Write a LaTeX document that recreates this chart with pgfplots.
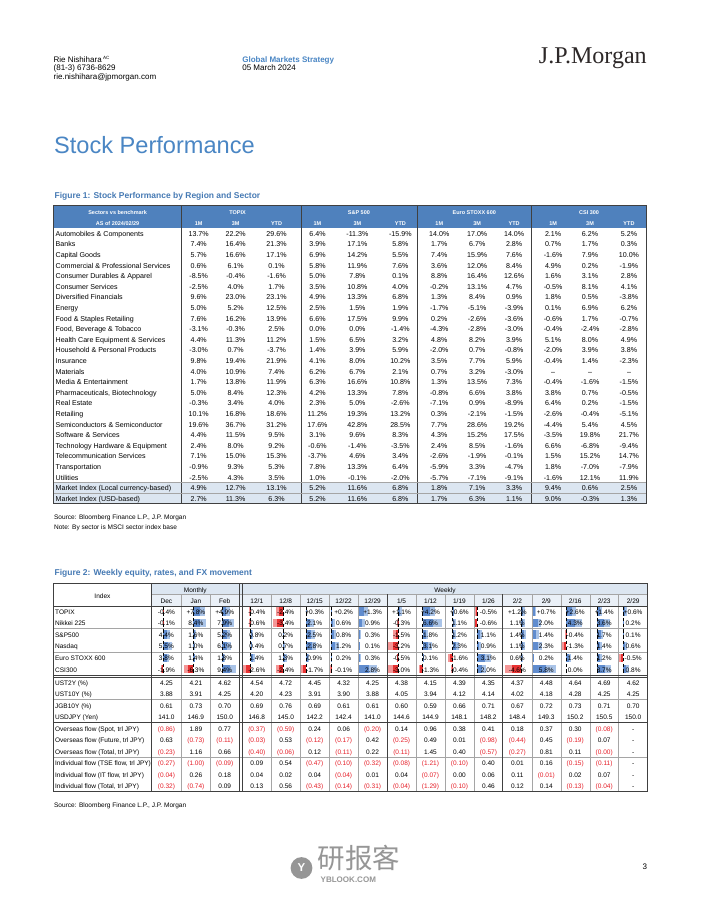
\documentclass[border=0pt]{standalone}
\usepackage{pgfplots}
\pgfplotsset{compat=1.18}
\usepackage{pgfplotstable}
\usepackage{fontspec}
\setmainfont{Liberation Sans}
\newfontfamily\logofont{Liberation Serif}
\newfontfamily\cjk{Noto Sans CJK SC}
\definecolor{jpblue}{RGB}{74,134,196}
\definecolor{figblue}{RGB}{70,122,180}
\definecolor{hdrblue}{RGB}{79,129,189}
\definecolor{lightrow}{RGB}{220,230,241}
\definecolor{hdrtwo}{RGB}{234,240,247}
\definecolor{barblue}{RGB}{96,140,206}
\definecolor{barbluel}{RGB}{170,196,232}
\definecolor{barred}{RGB}{232,50,50}
\definecolor{barredl}{RGB}{244,150,150}
\definecolor{negred}{RGB}{230,30,40}
\definecolor{linegray}{RGB}{64,64,64}
\definecolor{thingray}{RGB}{165,165,165}
\definecolor{wm}{RGB}{150,150,150}
\newcommand{\fs}[1]{\fontsize{#1}{#1}\selectfont}
% percent formatter: "--" stays as a dash, numbers get a % sign
\def\fmtpct#1{\expandafter\fmtpcti#1\relax}
\def\fmtpcti#1#2\relax{\ifx-#1\ifx-#2--\else#1#2\%\fi\else#1#2\%\fi}
% flow formatter: negatives in red parentheses, a lone "-" stays a dash
\def\fmtflow#1{\expandafter\fmtflowi#1\relax}
\def\fmtflowi#1#2\relax{\ifx-#1\ifx\relax#2\relax-\else\textcolor{negred}{(#2)}\fi\else#1#2\fi}

% Figure 1: stock performance (%), rows 0..25
\pgfplotstableread{
r a1 a2 a3 b1 b2 b3 c1 c2 c3 d1 d2 d3
0 13.7 22.2 29.6 6.4 -11.3 -15.9 14.0 17.0 14.0 2.1 6.2 5.2
1 7.4 16.4 21.3 3.9 17.1 5.8 1.7 6.7 2.8 0.7 1.7 0.3
2 5.7 16.6 17.1 6.9 14.2 5.5 7.4 15.9 7.6 -1.6 7.9 10.0
3 0.6 6.1 0.1 5.8 11.9 7.6 3.6 12.0 8.4 4.9 0.2 -1.9
4 -8.5 -0.4 -1.6 5.0 7.8 0.1 8.8 16.4 12.6 1.6 3.1 2.8
5 -2.5 4.0 1.7 3.5 10.8 4.0 -0.2 13.1 4.7 -0.5 8.1 4.1
6 9.6 23.0 23.1 4.9 13.3 6.8 1.3 8.4 0.9 1.8 0.5 -3.8
7 5.0 5.2 12.5 2.5 1.5 1.9 -1.7 -5.1 -3.9 0.1 6.9 6.2
8 7.6 16.2 13.9 6.6 17.5 9.9 0.2 -2.6 -3.6 -0.6 1.7 -0.7
9 -3.1 -0.3 2.5 0.0 0.0 -1.4 -4.3 -2.8 -3.0 -0.4 -2.4 -2.8
10 4.4 11.3 11.2 1.5 6.5 3.2 4.8 8.2 3.9 5.1 8.0 4.9
11 -3.0 0.7 -3.7 1.4 3.9 5.9 -2.0 0.7 -0.8 -2.0 3.9 3.8
12 9.8 19.4 21.9 4.1 8.0 10.2 3.5 7.7 5.9 -0.4 1.4 -2.3
13 4.0 10.9 7.4 6.2 6.7 2.1 0.7 3.2 -3.0 -- -- --
14 1.7 13.8 11.9 6.3 16.6 10.8 1.3 13.5 7.3 -0.4 -1.6 -1.5
15 5.0 8.4 12.3 4.2 13.3 7.8 -0.8 6.6 3.8 3.8 0.7 -0.5
16 -0.3 3.4 4.0 2.3 5.0 -2.6 -7.1 0.9 -8.9 6.4 0.2 -1.5
17 10.1 16.8 18.6 11.2 19.3 13.2 0.3 -2.1 -1.5 -2.6 -0.4 -5.1
18 19.6 36.7 31.2 17.6 42.8 28.5 7.7 28.6 19.2 -4.4 5.4 4.5
19 4.4 11.5 9.5 3.1 9.6 8.3 4.3 15.2 17.5 -3.5 19.8 21.7
20 2.4 8.0 9.2 -0.6 -1.4 -3.5 2.4 8.5 -1.6 6.6 -6.8 -9.4
21 7.1 15.0 15.3 -3.7 4.6 3.4 -2.6 -1.9 -0.1 1.5 15.2 14.7
22 -0.9 9.3 5.3 7.8 13.3 6.4 -5.9 3.3 -4.7 1.8 -7.0 -7.9
23 -2.5 4.3 3.5 1.0 -0.1 -2.0 -5.7 -7.1 -9.1 -1.6 12.1 11.9
24 4.9 12.7 13.1 5.2 11.6 6.8 1.8 7.1 3.3 9.4 0.6 2.5
25 2.7 11.3 6.3 5.2 11.6 6.8 1.7 6.3 1.1 9.0 -0.3 1.3
}\figone

% Figure 2: equity moves (%) as printed
\pgfplotstableread{
y m1 m2 m3 w1 w2 w3 w4 w5 w6 w7 w8 w9 w10 w11 w12 w13 w14
611.5 -0.4 +7.8 +4.9 -0.4 -2.4 +0.3 +0.2 +1.3 +1.1 +4.2 +0.6 -0.5 +1.2 +0.7 +2.6 +1.4 +0.6
622.8 -0.1 8.4 7.9 -0.6 -3.4 2.1 0.6 0.9 -0.3 6.6 1.1 -0.6 1.1 2.0 4.3 3.6 0.2
634.5 4.4 1.6 5.2 0.8 0.2 2.5 0.8 0.3 -1.5 1.8 1.2 1.1 1.4 1.4 -0.4 1.7 0.1
645.9 5.5 1.0 6.1 0.4 0.7 2.8 1.2 0.1 -3.2 3.1 2.3 0.9 1.1 2.3 -1.3 1.4 0.6
657.6 3.8 1.4 1.8 1.4 1.3 0.9 0.2 0.3 -0.5 0.1 -1.6 3.1 0.6 0.2 1.4 1.2 -0.5
669.0 -1.9 -6.3 9.4 -2.6 -2.4 -1.7 -0.1 2.8 -3.0 -1.3 -0.4 2.0 -4.6 5.8 0.0 3.7 0.8
}\eqtext
% same values, numeric, for the in-cell bars
\pgfplotstableread{
y m1 m2 m3 w1 w2 w3 w4 w5 w6 w7 w8 w9 w10 w11 w12 w13 w14
611.5 -0.4 7.8 4.9 -0.4 -2.4 0.3 0.2 1.3 1.1 4.2 0.6 -0.5 1.2 0.7 2.6 1.4 0.6
622.8 -0.1 8.4 7.9 -0.6 -3.4 2.1 0.6 0.9 -0.3 6.6 1.1 -0.6 1.1 2.0 4.3 3.6 0.2
634.5 4.4 1.6 5.2 0.8 0.2 2.5 0.8 0.3 -1.5 1.8 1.2 1.1 1.4 1.4 -0.4 1.7 0.1
645.9 5.5 1.0 6.1 0.4 0.7 2.8 1.2 0.1 -3.2 3.1 2.3 0.9 1.1 2.3 -1.3 1.4 0.6
657.6 3.8 1.4 1.8 1.4 1.3 0.9 0.2 0.3 -0.5 0.1 -1.6 3.1 0.6 0.2 1.4 1.2 -0.5
669.0 -1.9 -6.3 9.4 -2.6 -2.4 -1.7 -0.1 2.8 -3.0 -1.3 -0.4 2.0 -4.6 5.8 0.0 3.7 0.8
}\eqbars
% rates, FX and flows (negative flows are printed in red parentheses)
\pgfplotstableread{
y m1 m2 m3 w1 w2 w3 w4 w5 w6 w7 w8 w9 w10 w11 w12 w13 w14
682.3 4.25 4.21 4.62 4.54 4.72 4.45 4.32 4.25 4.38 4.15 4.39 4.35 4.37 4.48 4.64 4.69 4.62
693.8 3.88 3.91 4.25 4.20 4.23 3.91 3.90 3.88 4.05 3.94 4.12 4.14 4.02 4.18 4.28 4.25 4.25
705.5 0.61 0.73 0.70 0.69 0.76 0.69 0.61 0.61 0.60 0.59 0.66 0.71 0.67 0.72 0.73 0.71 0.70
716.9 141.0 146.9 150.0 146.8 145.0 142.2 142.4 141.0 144.6 144.9 148.1 148.2 148.4 149.3 150.2 150.5 150.0
728.5 -0.86 1.89 0.77 -0.37 -0.59 0.24 0.06 -0.20 0.14 0.96 0.38 0.41 0.18 0.37 0.30 -0.08 -
739.9 0.63 -0.73 -0.11 -0.03 0.53 -0.12 -0.17 0.42 -0.25 0.49 0.01 -0.98 -0.44 0.45 -0.19 0.07 -
751.2 -0.23 1.16 0.66 -0.40 -0.06 0.12 -0.11 0.22 -0.11 1.45 0.40 -0.57 -0.27 0.81 0.11 -0.00 -
762.8 -0.27 -1.00 -0.09 0.09 0.54 -0.47 -0.10 -0.32 -0.08 -1.21 -0.10 0.40 0.01 0.16 -0.15 -0.11 -
774.3 -0.04 0.26 0.18 0.04 0.02 0.04 -0.04 0.01 0.04 -0.07 0.00 0.06 0.11 -0.01 0.02 0.07 -
785.8 -0.32 -0.74 0.09 0.13 0.56 -0.43 -0.14 -0.31 -0.04 -1.29 -0.10 0.46 0.12 0.14 -0.13 -0.04 -
}\othertext
% zero axes of the in-cell data bars (x position, top of axis)
\pgfplotstableread{
z y
163.7 606.5
193.7 606.5
222.7 606.5
251.0 606.5
283.3 606.5
306.7 606.5
331.5 606.5
399.0 606.5
423.3 606.5
453.3 606.5
477.7 606.5
521.7 606.5
567.3 606.5
598.3 606.5
624.0 606.5
}\zeroaxes

\tikzset{
  lt/.style={inner sep=0pt, anchor=mid west, font=\fs{6}},
  ct/.style={inner sep=0pt, anchor=mid, font=\fs{6}},
}
\newcommand{\fonecol}[2]{\addplot[draw=none, mark=none, point meta=explicit symbolic,
  nodes near coords={\fmtpct{\pgfplotspointmeta}},
  every node near coord/.append style={ct, font=\fs{6.2}, text=black}]
  table[x expr=#2, y expr={233.3+10.6*\thisrow{r}}, meta=#1] {\figone};}
\newcommand{\ftcol}[4]{\addplot[draw=none, mark=none, point meta=explicit symbolic,
  nodes near coords={#4{\pgfplotspointmeta}},
  every node near coord/.append style={ct, font=\fs{5.7}, text=black}]
  table[x expr=#3, y=y, meta=#2] {#1};}
% a data bar: light full length, darker near its base (gradient look)
\newcommand{\barcol}[3]{%
  \addplot[barbluel, line width=7pt, line cap=butt, quiver={u={max(\thisrow{#1},0)*#3}, v=0}]
    table[x expr=#2, y=y] {\eqbars};
  \addplot[barblue, line width=7pt, line cap=butt, quiver={u={max(\thisrow{#1},0)*#3*0.55}, v=0}]
    table[x expr=#2, y=y] {\eqbars};
  \addplot[barredl, line width=7pt, line cap=butt, quiver={u={min(\thisrow{#1},0)*#3}, v=0}]
    table[x expr=#2, y=y] {\eqbars};
  \addplot[barred, line width=7pt, line cap=butt, quiver={u={min(\thisrow{#1},0)*#3*0.55}, v=0}]
    table[x expr=#2, y=y] {\eqbars};}
\newcommand{\rowA}[2]{\node[lt, font=\fs{6.2}] at (axis cs:55.5,{233.3+10.6*#1}) {#2};}
\newcommand{\rowB}[2]{\node[lt, font=\fs{5.7}] at (axis cs:55,#1) {#2};}
\newcommand{\vl}[4]{\draw[#4] (axis cs:#1,#2) -- (axis cs:#1,#3);}
\newcommand{\hl}[4]{\draw[#4] (axis cs:#2,#1) -- (axis cs:#3,#1);}
\newcommand{\hw}[3]{\node[ct, font=\fs{4.8}\bfseries, text=white] at (axis cs:#1,#2) {#3};}
\newcommand{\hb}[2]{\node[ct, font=\fs{5.7}] at (axis cs:#1,600.3) {#2};}

\begin{document}
\begin{tikzpicture}
\begin{axis}[set layers, hide axis, scale only axis, width=612pt, height=792pt,
  xmin=0, xmax=702, ymin=0, ymax=907, y dir=reverse, clip=false]

\begin{pgfonlayer}{axis background}
  \fill[white] (axis cs:0,0) rectangle (axis cs:702,907);
  \fill[hdrblue] (axis cs:54,205.5) rectangle (axis cs:647.3,228);
  \fill[lightrow] (axis cs:54,482.4) rectangle (axis cs:647.3,503.6);
  \fill[lightrow] (axis cs:151.7,583.5) rectangle (axis cs:648.5,594.3);
  \fill[hdrtwo] (axis cs:151.7,594.3) rectangle (axis cs:648.5,606);
\end{pgfonlayer}

% in-cell data bars of Figure 2
\barcol{m1}{163.7}{1.5}
\barcol{m2}{193.7}{1.5}
\barcol{m3}{222.7}{1.5}
\barcol{w1}{251.0}{3.0}
\barcol{w2}{283.3}{3.0}
\barcol{w3}{306.7}{3.5}
\barcol{w4}{331.5}{6.5}
\barcol{w5}{359.8}{6.4}
\barcol{w6}{399.0}{3.3}
\barcol{w7}{423.3}{3.0}
\barcol{w8}{453.3}{2.9}
\barcol{w9}{477.7}{4.5}
\barcol{w10}{521.7}{3.5}
\barcol{w11}{534.2}{3.9}
\barcol{w12}{567.3}{3.6}
\barcol{w13}{598.3}{3.6}
\barcol{w14}{624.0}{7.0}
\addplot[black, densely dashed, line width=0.45pt, quiver={u=0, v=69}]
  table[x=z, y=y] {\zeroaxes};

% Figure 1 values
\fonecol{a1}{199}\fonecol{a2}{236}\fonecol{a3}{277}
\fonecol{b1}{318}\fonecol{b2}{358}\fonecol{b3}{401}
\fonecol{c1}{440}\fonecol{c2}{478}\fonecol{c3}{515}
\fonecol{d1}{554}\fonecol{d2}{591}\fonecol{d3}{630}

% Figure 2 values
\ftcol{\eqtext}{m1}{166.7}{\fmtpct}\ftcol{\eqtext}{m2}{196.2}{\fmtpct}\ftcol{\eqtext}{m3}{225.1}{\fmtpct}
\ftcol{\eqtext}{w1}{257.2}{\fmtpct}\ftcol{\eqtext}{w2}{286.2}{\fmtpct}\ftcol{\eqtext}{w3}{315.2}{\fmtpct}
\ftcol{\eqtext}{w4}{344.2}{\fmtpct}\ftcol{\eqtext}{w5}{373.2}{\fmtpct}\ftcol{\eqtext}{w6}{402.2}{\fmtpct}
\ftcol{\eqtext}{w7}{431.2}{\fmtpct}\ftcol{\eqtext}{w8}{460.2}{\fmtpct}\ftcol{\eqtext}{w9}{489.2}{\fmtpct}
\ftcol{\eqtext}{w10}{518.2}{\fmtpct}\ftcol{\eqtext}{w11}{547.2}{\fmtpct}\ftcol{\eqtext}{w12}{576.2}{\fmtpct}
\ftcol{\eqtext}{w13}{605.2}{\fmtpct}\ftcol{\eqtext}{w14}{634.2}{\fmtpct}
\ftcol{\othertext}{m1}{166.7}{\fmtflow}\ftcol{\othertext}{m2}{196.2}{\fmtflow}\ftcol{\othertext}{m3}{225.1}{\fmtflow}
\ftcol{\othertext}{w1}{257.2}{\fmtflow}\ftcol{\othertext}{w2}{286.2}{\fmtflow}\ftcol{\othertext}{w3}{315.2}{\fmtflow}
\ftcol{\othertext}{w4}{344.2}{\fmtflow}\ftcol{\othertext}{w5}{373.2}{\fmtflow}\ftcol{\othertext}{w6}{402.2}{\fmtflow}
\ftcol{\othertext}{w7}{431.2}{\fmtflow}\ftcol{\othertext}{w8}{460.2}{\fmtflow}\ftcol{\othertext}{w9}{489.2}{\fmtflow}
\ftcol{\othertext}{w10}{518.2}{\fmtflow}\ftcol{\othertext}{w11}{547.2}{\fmtflow}\ftcol{\othertext}{w12}{576.2}{\fmtflow}
\ftcol{\othertext}{w13}{605.2}{\fmtflow}\ftcol{\othertext}{w14}{634.2}{\fmtflow}

\begin{pgfonlayer}{axis foreground}
% ---------- page header ----------
\node[lt, font=\fs{7}] at (axis cs:53.5,59) {Rie Nishihara\,\raisebox{2.2pt}{\fs{4}AC}};
\node[lt, font=\fs{7}] at (axis cs:53.5,67.5) {(81-3) 6736-8629};
\node[lt, font=\fs{7}] at (axis cs:53.5,76) {rie.nishihara@jpmorgan.com};
\node[lt, font=\fs{7}\bfseries, text=jpblue] at (axis cs:242.5,59) {Global Markets Strategy};
\node[lt, font=\fs{7}] at (axis cs:242.5,67.5) {05 March 2024};
\node[inner sep=0pt, anchor=mid east, font=\logofont\fs{21}, text={rgb,255:red,45;green,40;blue,40}] at (axis cs:648,60) {J.P.Morgan};
\node[lt, font=\fs{20.6}, text=jpblue] at (axis cs:54,150) {Stock Performance};

% ---------- Figure 1 ----------
\node[lt, font=\fs{7.4}\bfseries, text=figblue] at (axis cs:54.5,195) {Figure 1: Stock Performance by Region and Sector};
\draw[linegray, line width=0.8pt] (axis cs:54,205.5) rectangle (axis cs:647.3,503.6);
\vl{181.7}{205.5}{503.6}{linegray, line width=0.8pt}
\vl{301.7}{205.5}{503.6}{linegray, line width=0.8pt}
\vl{417.7}{205.5}{503.6}{linegray, line width=0.8pt}
\vl{532.3}{205.5}{503.6}{linegray, line width=0.8pt}
\hl{482.4}{54}{647.3}{thingray, line width=0.4pt}
\hl{493}{54}{647.3}{thingray, line width=0.4pt}
\hw{117.8}{211.2}{Sectors vs benchmark}
\hw{117.8}{222.2}{AS of 2024/02/29}
\hw{238}{211.2}{TOPIX}
\hw{359.5}{211.2}{S\&P 500}
\hw{475}{211.2}{Euro STOXX 600}
\hw{590}{211.2}{CSI 300}
\hw{199}{222.2}{1M}\hw{236}{222.2}{3M}\hw{277}{222.2}{YTD}
\hw{318}{222.2}{1M}\hw{358}{222.2}{3M}\hw{401}{222.2}{YTD}
\hw{440}{222.2}{1M}\hw{478}{222.2}{3M}\hw{515}{222.2}{YTD}
\hw{554}{222.2}{1M}\hw{591}{222.2}{3M}\hw{630}{222.2}{YTD}
\rowA{0}{Automobiles \& Components}
\rowA{1}{Banks}
\rowA{2}{Capital Goods}
\rowA{3}{Commercial \& Professional Services}
\rowA{4}{Consumer Durables \& Apparel}
\rowA{5}{Consumer Services}
\rowA{6}{Diversified Financials}
\rowA{7}{Energy}
\rowA{8}{Food \& Staples Retailing}
\rowA{9}{Food, Beverage \& Tobacco}
\rowA{10}{Health Care Equipment \& Services}
\rowA{11}{Household \& Personal Products}
\rowA{12}{Insurance}
\rowA{13}{Materials}
\rowA{14}{Media \& Entertainment}
\rowA{15}{Pharmaceuticals, Biotechnology}
\rowA{16}{Real Estate}
\rowA{17}{Retailing}
\rowA{18}{Semiconductors \& Semiconductor}
\rowA{19}{Software \& Services}
\rowA{20}{Technology Hardware \& Equipment}
\rowA{21}{Telecommunication Services}
\rowA{22}{Transportation}
\rowA{23}{Utilities}
\rowA{24}{Market Index (Local currency-based)}
\rowA{25}{Market Index (USD-based)}
\node[lt, font=\fs{5.7}] at (axis cs:54,516) {Source: Bloomberg Finance L.P., J.P. Morgan};
\node[lt, font=\fs{5.7}] at (axis cs:54,526) {Note: By sector is MSCI sector index base};

% ---------- Figure 2 ----------
\node[lt, font=\fs{7.4}\bfseries, text=figblue] at (axis cs:54.5,572) {Figure 2: Weekly equity, rates, and FX movement};
\vl{181.7}{594.3}{791.6}{thingray, line width=0.4pt}
\vl{210.7}{594.3}{791.6}{thingray, line width=0.4pt}
\vl{271.7}{594.3}{791.6}{thingray, line width=0.4pt}
\vl{300.7}{594.3}{791.6}{thingray, line width=0.4pt}
\vl{329.7}{594.3}{791.6}{thingray, line width=0.4pt}
\vl{358.7}{594.3}{791.6}{thingray, line width=0.4pt}
\vl{416.7}{594.3}{791.6}{thingray, line width=0.4pt}
\vl{445.7}{594.3}{791.6}{thingray, line width=0.4pt}
\vl{474.7}{594.3}{791.6}{thingray, line width=0.4pt}
\vl{532.7}{594.3}{791.6}{thingray, line width=0.4pt}
\vl{561.7}{594.3}{791.6}{thingray, line width=0.4pt}
\vl{590.7}{594.3}{791.6}{thingray, line width=0.4pt}
\vl{619.7}{594.3}{791.6}{thingray, line width=0.4pt}
\hl{594.3}{151.7}{648.5}{thingray, line width=0.4pt}
\hl{628.6}{53.5}{648.5}{thingray, line width=0.45pt}
\hl{651.8}{53.5}{648.5}{thingray, line width=0.45pt}
\hl{699.7}{53.5}{648.5}{thingray, line width=0.45pt}
\hl{757}{53.5}{648.5}{thingray, line width=0.45pt}
\hl{606}{53.5}{648.5}{linegray, line width=0.6pt}
\hl{675.4}{53.5}{648.5}{linegray, line width=0.6pt}
\hl{677.6}{53.5}{648.5}{linegray, line width=0.6pt}
\hl{722.7}{53.5}{648.5}{linegray, line width=0.6pt}
\vl{151.7}{583.5}{791.6}{linegray, line width=0.7pt}
\vl{239.5}{583.5}{791.6}{linegray, line width=0.7pt}
\vl{242.7}{583.5}{791.6}{linegray, line width=0.7pt}
\vl{387.7}{594.3}{791.6}{linegray, line width=0.7pt}
\vl{503.7}{594.3}{791.6}{linegray, line width=0.7pt}
\draw[linegray, line width=0.8pt] (axis cs:53.5,583.5) rectangle (axis cs:648.5,791.6);
\node[ct, font=\fs{5.7}] at (axis cs:102.6,595) {Index};
\node[ct, font=\fs{5.7}] at (axis cs:195.6,589) {Monthly};
\node[ct, font=\fs{5.7}] at (axis cs:445.7,589) {Weekly};
\hb{166.7}{Dec}\hb{196.2}{Jan}\hb{225.1}{Feb}
\hb{257.2}{12/1}\hb{286.2}{12/8}\hb{315.2}{12/15}\hb{344.2}{12/22}\hb{373.2}{12/29}
\hb{402.2}{1/5}\hb{431.2}{1/12}\hb{460.2}{1/19}\hb{489.2}{1/26}
\hb{518.2}{2/2}\hb{547.2}{2/9}\hb{576.2}{2/16}\hb{605.2}{2/23}\hb{634.2}{2/29}
\rowB{611.5}{TOPIX}
\rowB{622.8}{Nikkei 225}
\rowB{634.5}{S\&P500}
\rowB{645.9}{Nasdaq}
\rowB{657.6}{Euro STOXX 600}
\rowB{669.0}{CSI300}
\rowB{682.3}{UST2Y (\%)}
\rowB{693.8}{UST10Y (\%)}
\rowB{705.5}{JGB10Y (\%)}
\rowB{716.9}{USDJPY (Yen)}
\rowB{728.5}{Overseas flow (Spot, trl JPY)}
\rowB{739.9}{Overseas flow (Future, trl JPY)}
\rowB{751.2}{Overseas flow (Total, trl JPY)}
\rowB{762.8}{Individual flow (TSE flow, trl JPY)}
\rowB{774.3}{Individual flow (IT flow, trl JPY)}
\rowB{785.8}{Individual flow (Total, trl JPY)}
\node[lt, font=\fs{5.7}] at (axis cs:54,804) {Source: Bloomberg Finance L.P., J.P. Morgan};

% ---------- footer ----------
\fill[wm] (axis cs:302,868) circle (9.5pt);
\node[ct, font=\fs{10}\bfseries, text=white] at (axis cs:302,868) {Y};
\node[lt, font=\cjk\fs{24}, text=wm] at (axis cs:318,865) {研报客};
\node[lt, font=\fs{7}\bfseries, text=wm] at (axis cs:321,879) {YBLOOK.COM};
\node[ct, font=\fs{7}] at (axis cs:646,866) {3};
\end{pgfonlayer}
\end{axis}
\end{tikzpicture}
\end{document}
